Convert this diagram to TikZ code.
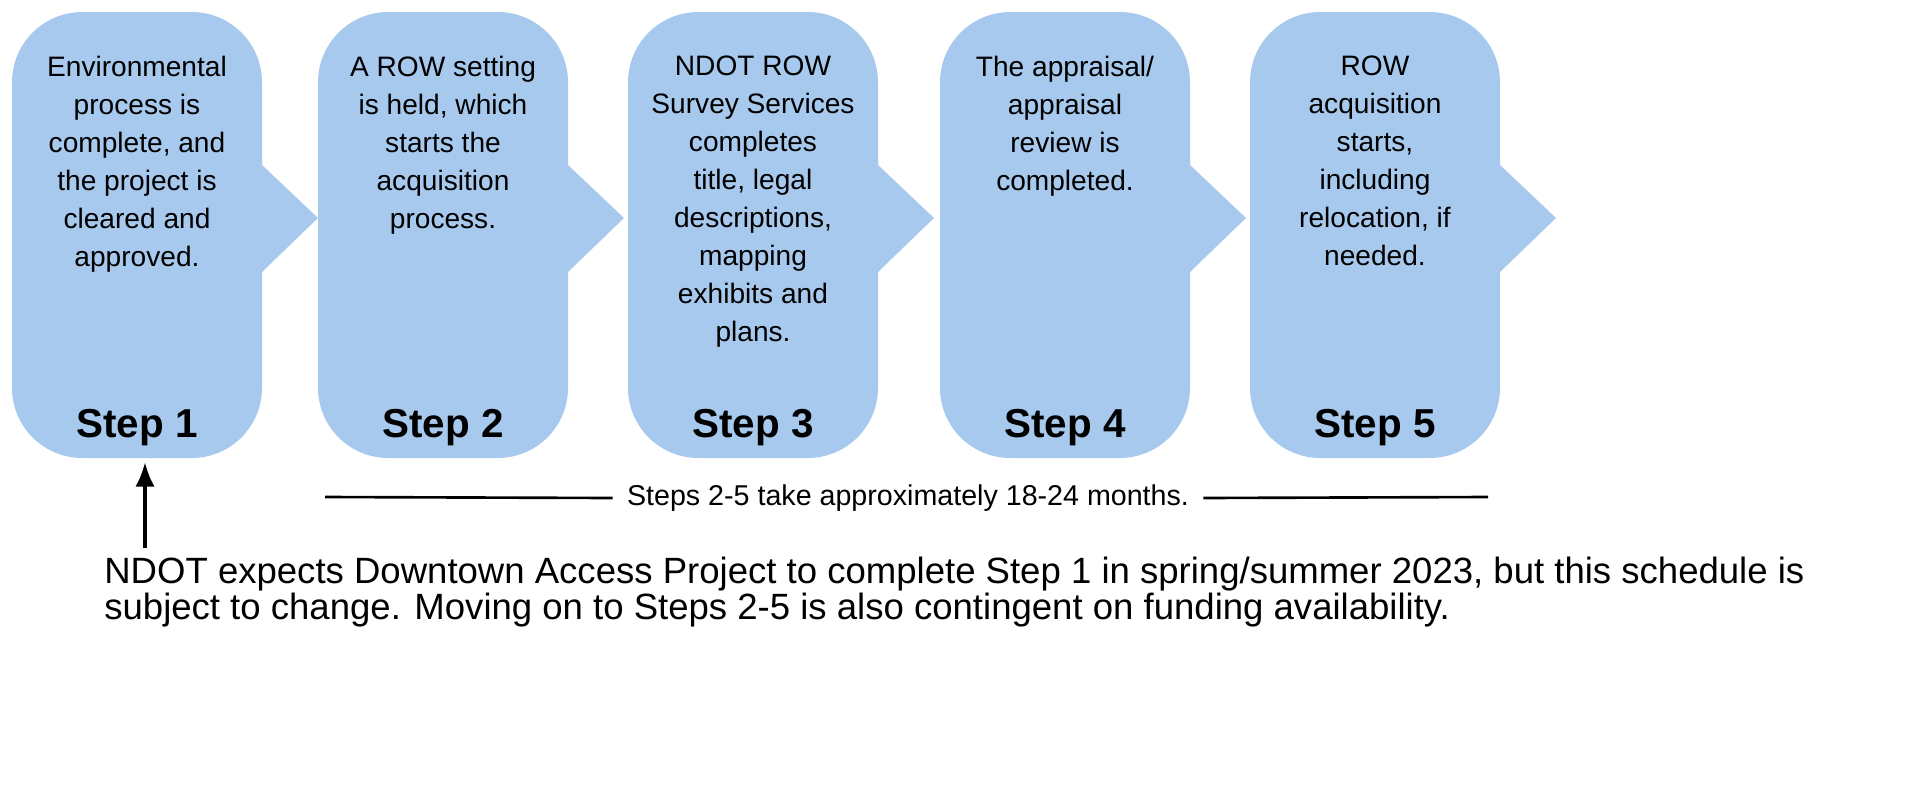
\documentclass[tikz,border=0pt]{standalone}
\usepackage{fontspec}
\setmainfont{Liberation Sans}
\usetikzlibrary{arrows.meta}
\definecolor{stepblue}{RGB}{167,201,237}
\begin{document}
\begin{tikzpicture}[x=0.02cm,y=-0.02cm]
\tikzset{
  body/.style={align=center,font=\fontsize{16}{21.6}\selectfont,anchor=north,inner sep=0pt},
  steplab/.style={font=\fontsize{23}{26}\selectfont\bfseries,inner sep=0pt},
}
\useasboundingbox (0,0) rectangle (1920,785);
% five step boxes with their arrow heads
\foreach \n/\x/\txt in {1/12/{Environmental\\process is\\complete, and\\the project is\\cleared and\\approved.},
  2/318/{A ROW setting\\is held, which\\starts the\\acquisition\\process.},
  3/628/{NDOT ROW\\Survey Services\\completes\\title, legal\\descriptions,\\mapping\\exhibits and\\plans.},
  4/940/{The appraisal/\\appraisal\\review is\\completed.},
  5/1250/{ROW\\acquisition\\starts,\\including\\relocation, if\\needed.}}{
  \fill[stepblue] (\x+250,165)--(\x+306,218)--(\x+250,272)--cycle;
  \fill[stepblue,rounded corners=40] (\x,12) rectangle (\x+250,458);
  \node[body] (b\n) at (\x+125,56) {\txt};
  \node[steplab] (s\n) at (\x+125,428) {Step \n};
}
\node[font=\fontsize{16.3}{21.6}\selectfont,inner sep=0pt] (span) at (908,498) {Steps 2-5 take approximately 18-24 months.};
\coordinate (l1) at (325,497);
\coordinate (l2) at (1488,497);
\draw[line width=1.5pt] (l1) -- ([xshift=-8pt]span.west);
\draw[line width=1.5pt] ([xshift=8pt]span.east) -- (l2);
\node[font=\fontsize{20.8}{20.5}\selectfont,align=left,anchor=north west,inner sep=0pt] (note) at (104,557)
  {NDOT expects Downtown Access Project to complete Step 1 in spring/summer 2023, but this schedule is\\
   subject to change. Moving on to Steps 2-5 is also contingent on funding availability.};
\coordinate (up) at (145,548);
\draw[line width=2.2pt,-{Latex[length=14pt,width=11pt]}] (up) -- (145,462);
\end{tikzpicture}
\end{document}
